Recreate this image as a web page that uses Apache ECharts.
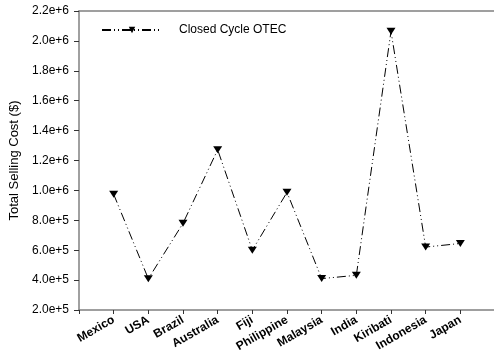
<!DOCTYPE html>
<html>
<head>
<meta charset="utf-8">
<script src="https://cdn.jsdelivr.net/npm/echarts@6/dist/echarts.min.js"></script>
<style>html,body{margin:0;padding:0;background:#fff}#c{width:494px;height:355px}</style>
</head>
<body>
<div id="c"></div>
<script>
var categories = ['Mexico','USA','Brazil','Australia','Fiji','Philippine','Malaysia','India','Kiribati','Indonesia','Japan'];
var sellingCost = [974000, 409000, 780000, 1272000, 600000, 987000, 410000, 432000, 2064000, 621000, 645000];
var yTickValues = [200000,400000,600000,800000,1000000,1200000,1400000,1600000,1800000,2000000,2200000];
var yTickLabels = ['2.0e+5','4.0e+5','6.0e+5','8.0e+5','1.0e+6','1.2e+6','1.4e+6','1.6e+6','1.8e+6','2.0e+6','2.2e+6'];
var seriesName = 'Closed Cycle OTEC';
var yTitle = 'Total Selling Cost ($)';

var chart = echarts.init(document.getElementById('c'), null, {renderer:'canvas'});
var axisCol = '#808080';
var font = 'Liberation Sans, Arial, sans-serif';
var pts = categories.map(function(c,i){ return [i+1, sellingCost[i]]; });
chart.setOption({
  animation:false,
  backgroundColor:'#fff',
  grid:{left:79, top:11, right:-1, bottom:45, outerBoundsMode:'none', containLabel:false},
  legend:{
    left:96, top:19, itemWidth:60, itemHeight:8, symbolRotate:'inherit',
    textStyle:{fontFamily:font, fontSize:12, color:'#000', padding:[0,0,0,12]},
    data:[seriesName]
  },
  xAxis:[{
    type:'value', min:0, max:12, interval:1,
    axisLine:{show:true, onZero:false, lineStyle:{color:axisCol, width:1.5}},
    axisTick:{show:true, length:4, lineStyle:{color:'#333', width:1}},
    splitLine:{show:false},
    axisLabel:{
      rotate:30, margin:9, fontFamily:font, fontWeight:'bold', fontSize:12, color:'#000',
      formatter:function(v){ return (v>=1 && v<=categories.length) ? categories[v-1] : ''; }
    }
  },{
    type:'value', position:'top', min:0, max:12,
    axisLine:{show:true, lineStyle:{color:axisCol, width:1.5}},
    axisTick:{show:false}, axisLabel:{show:false}, splitLine:{show:false}
  }],
  yAxis:{
    type:'value', min:200000, max:2200000, interval:200000,
    name:yTitle, nameLocation:'middle', nameGap:58,
    nameTextStyle:{fontFamily:font, fontSize:13, color:'#000'},
    axisLine:{show:true, onZero:false, lineStyle:{color:axisCol, width:1.5}},
    axisTick:{show:true, length:5, lineStyle:{color:'#333', width:1}},
    splitLine:{show:false},
    axisLabel:{
      margin:10, fontFamily:font, fontSize:12, color:'#000',
      formatter:function(v){ var i = yTickValues.indexOf(v); return i>=0 ? yTickLabels[i] : ''; }
    }
  },
  series:[{
    name:seriesName, type:'line', data:pts,
    symbol:'triangle', symbolRotate:180, symbolSize:[9,7],
    itemStyle:{color:'#000'},
    lineStyle:{color:'#000', width:1, type:[9,3,1,3,1,3]}
  }]
});
</script>
</body>
</html>
